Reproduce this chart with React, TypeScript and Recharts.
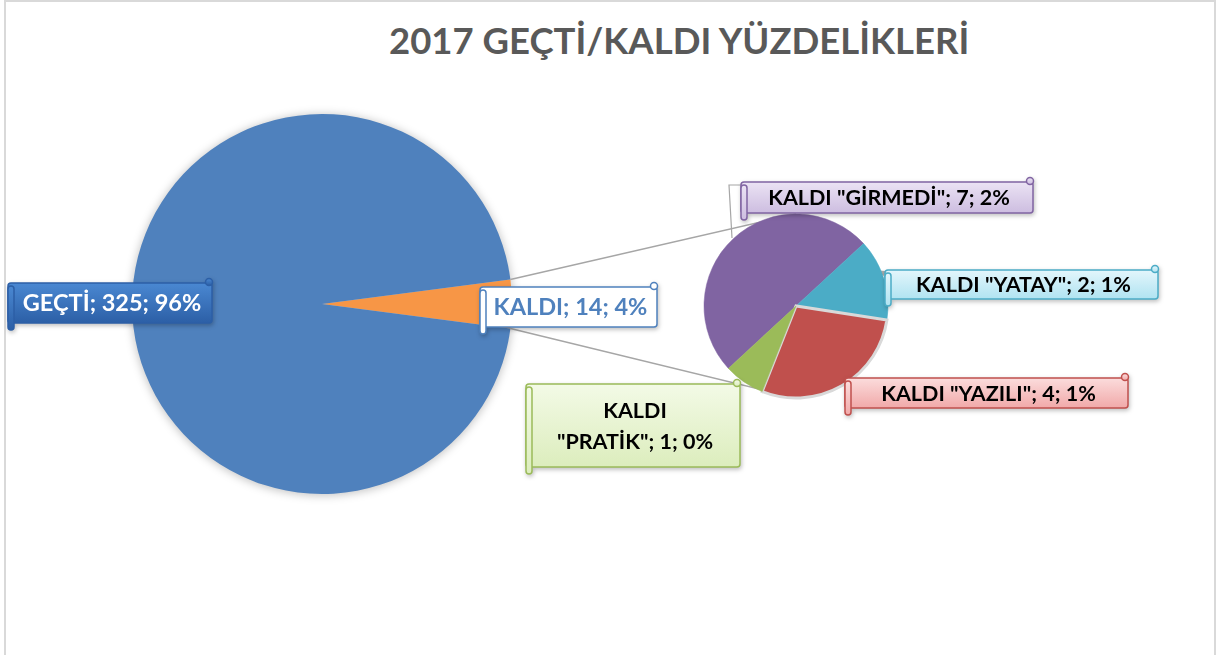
import React from "react";
import { PieChart, Pie, Cell } from "recharts";

// ─── Data ───
const mainNames = ["KALDI", "GEÇTİ"];
const mainValues = [14, 325];
const mainColors = ["#f79646", "#4f81bd"];

const subNames = ['KALDI "GİRMEDİ"', 'KALDI "YATAY"', 'KALDI "YAZILI"', 'KALDI "PRATİK"'];
const subValues = [7, 2, 4, 1];
const subColors = ["#8064a2", "#4bacc6", "#c0504d", "#9bbb59"];

const TITLE = "2017 GEÇTİ/KALDI YÜZDELİKLERİ";

const total = mainValues.reduce((s, v) => s + v, 0);
const mainData = mainNames.map((name, i) => ({ name, value: mainValues[i] }));
const subData = subNames.map((name, i) => ({ name, value: subValues[i] }));

// ─── Geometry ───
const W = 1219;
const H = 655;
const MAIN = { cx: 322, cy: 304, r: 190 };
const SUB = { cx: 796, cy: 306, r: 92 };
const FONT = "Lato, 'Open Sans', sans-serif";

// orange slice centred on the right side, like Excel's pie-of-pie
const splitHalf = (mainValues[0] / total) * 180;
const subStart = 222.7;

// ─── Label boxes (Excel scroll callouts) ───
interface Box {
  x: number;
  y: number;
  w: number;
  h: number;
  top: string;
  bottom: string;
  stroke: string;
  text: string;
  size: number;
  wrap?: boolean;
}

const boxes: Record<string, Box> = {
  "GEÇTİ": { x: 8, y: 283, w: 204, h: 40, top: "#4a88d2", bottom: "#2c5fa6", stroke: "#2c5fa6", text: "#ffffff", size: 23.5 },
  KALDI: { x: 480, y: 287, w: 177, h: 40, top: "#ffffff", bottom: "#ffffff", stroke: "#4f81bd", text: "#4f81bd", size: 23.5 },
  'KALDI "GİRMEDİ"': { x: 741, y: 182, w: 292, h: 31, top: "#ebe3f4", bottom: "#cdbde0", stroke: "#8064a2", text: "#000000", size: 21.5 },
  'KALDI "YATAY"': { x: 885, y: 270, w: 273, h: 29, top: "#e3f6fc", bottom: "#b0e3f1", stroke: "#4bacc6", text: "#000000", size: 21.5 },
  'KALDI "YAZILI"': { x: 845, y: 378, w: 283, h: 30, top: "#fbdcdc", bottom: "#f1a9a9", stroke: "#c0504d", text: "#000000", size: 21.5 },
  'KALDI "PRATİK"': { x: 526, y: 384, w: 214, h: 83, top: "#f3fae6", bottom: "#dcedbd", stroke: "#9bbb59", text: "#000000", size: 21.5, wrap: true },
};

function pct(v: number) {
  return `${Math.round((v / total) * 100)}%`;
}

function ScrollLabel(props: any) {
  const name: string = props.name ?? props.payload?.name;
  const value: number = props.value ?? props.payload?.value;
  const b = boxes[name];
  if (!b) return null;
  const id = "g" + Object.keys(boxes).indexOf(name);
  const lines = b.wrap
    ? [name.split(" ")[0], `${name.split(" ").slice(1).join(" ")}; ${value}; ${pct(value)}`]
    : [`${name}; ${value}; ${pct(value)}`];
  const tx = b.x + b.w / 2 + 2;
  const lineH = 31;
  const firstBase = b.y + b.h / 2 - ((lines.length - 1) * lineH) / 2 + b.size * 0.36;
  return (
    <g style={{ filter: "drop-shadow(1px 2px 2px rgba(0,0,0,0.25))" }}>
      <defs>
        <linearGradient id={id} x1="0" y1="0" x2="0" y2="1">
          <stop offset="0%" stopColor={b.top} />
          <stop offset="100%" stopColor={b.bottom} />
        </linearGradient>
      </defs>
      <rect x={b.x} y={b.y} width={b.w} height={b.h} rx={3} fill={`url(#${id})`} stroke={b.stroke} strokeWidth={1.5} />
      <rect x={b.x} y={b.y + 3} width={6} height={b.h + 4} rx={3} fill={`url(#${id})`} stroke={b.stroke} strokeWidth={1.5} />
      <circle cx={b.x + b.w - 3} cy={b.y - 1} r={3.5} fill={`url(#${id})`} stroke={b.stroke} strokeWidth={1.5} />
      {lines.map((t, i) => (
        <text
          key={i}
          x={tx}
          y={firstBase + i * lineH}
          textAnchor="middle"
          fontFamily={FONT}
          fontWeight={700}
          fontSize={b.size}
          fill={b.text}
        >
          {t}
        </text>
      ))}
    </g>
  );
}

// ─── Connector lines between the two pies ───
function Connectors() {
  const a = (splitHalf * Math.PI) / 180;
  const ex = MAIN.cx + MAIN.r * Math.cos(a);
  const eyTop = MAIN.cy - MAIN.r * Math.sin(a);
  const eyBot = MAIN.cy + MAIN.r * Math.sin(a);
  return (
    <svg width={W} height={H} style={{ position: "absolute", left: 0, top: 0 }}>
      <defs>
        <filter id="pieShadow" x="-20%" y="-20%" width="140%" height="140%">
          <feGaussianBlur stdDeviation="4" />
        </filter>
      </defs>
      <circle cx={MAIN.cx} cy={MAIN.cy + 1} r={MAIN.r + 1} fill="rgba(0,0,0,0.22)" filter="url(#pieShadow)" />
      <line x1={ex} y1={eyTop} x2={SUB.cx} y2={SUB.cy - SUB.r} stroke="#a6a6a6" strokeWidth={1.5} />
      <line x1={ex} y1={eyBot} x2={SUB.cx} y2={SUB.cy + SUB.r} stroke="#a6a6a6" strokeWidth={1.5} />
      <polyline points="741,185 729,185 732,238" fill="none" stroke="#a6a6a6" strokeWidth={1.2} />
      <polygon points="872,270 886,271 884,276" fill="#a6a6a6" />
    </svg>
  );
}

export default function App() {
  return (
    <div style={{ position: "fixed", left: 0, top: 0, width: W, height: H, background: "#fff", overflow: "hidden" }}>
      <div
        style={{
          position: "absolute",
          left: 4,
          top: 0,
          width: 1212,
          height: 720,
          boxSizing: "border-box",
          border: "2px solid #d9d9d9",
        }}
      />
      <Connectors />
      <div
        style={{
          position: "absolute",
          left: 389,
          top: 18,
          fontFamily: FONT,
          fontWeight: 700,
          fontSize: 36.5,
          color: "#595959",
          whiteSpace: "nowrap",
        }}
      >
        {TITLE}
      </div>
      <div style={{ position: "absolute", left: 0, top: 0 }}>
        <PieChart width={W} height={H} margin={{ top: 0, right: 0, bottom: 0, left: 0 }}>
          <Pie
            data={mainData}
            dataKey="value"
            nameKey="name"
            cx={MAIN.cx}
            cy={MAIN.cy}
            outerRadius={MAIN.r}
            startAngle={-splitHalf}
            endAngle={360 - splitHalf}
            stroke="none"
            label={ScrollLabel}
            labelLine={false}
            isAnimationActive={false}
          >
            {mainData.map((d, i) => (
              <Cell key={d.name} fill={mainColors[i]} />
            ))}
          </Pie>
          <Pie
            data={subData}
            dataKey="value"
            nameKey="name"
            cx={SUB.cx}
            cy={SUB.cy}
            outerRadius={SUB.r}
            startAngle={subStart}
            endAngle={subStart - 360}
            label={ScrollLabel}
            labelLine={false}
            isAnimationActive={false}
          >
            {subData.map((d, i) => (
              <Cell
                key={d.name}
                fill={subColors[i]}
                stroke={i === 2 ? "#d9d9d9" : subColors[i]}
                strokeWidth={i === 2 ? 3 : 0.5}
              />
            ))}
          </Pie>
        </PieChart>
      </div>
    </div>
  );
}
